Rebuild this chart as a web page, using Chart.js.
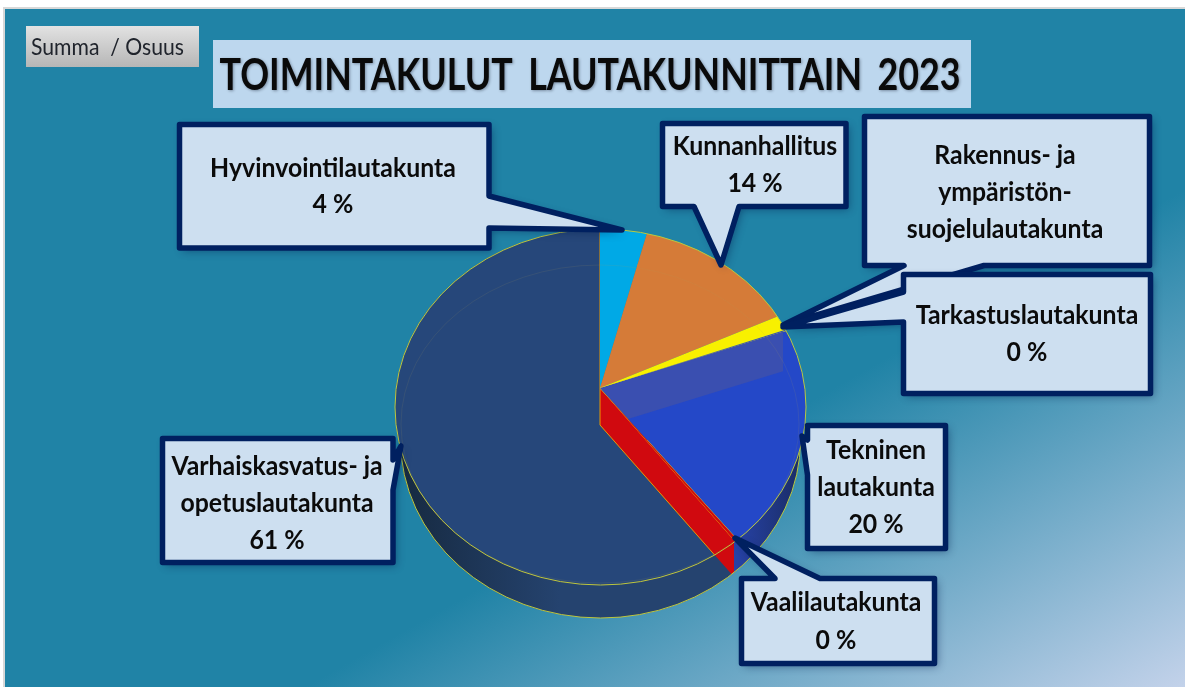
<!DOCTYPE html>
<html lang="fi">
<head>
<meta charset="utf-8">
<title>Toimintakulut lautakunnittain 2023</title>
<script src="https://cdn.jsdelivr.net/npm/chart.js@4"></script>
<style>
html,body{margin:0;padding:0;background:#fff;overflow:hidden}
#frame{position:absolute;left:3px;top:7px;width:1182px;height:680px;box-sizing:border-box;border-left:2px solid #d8d8d8;border-top:2px solid #d8d8d8;
background:linear-gradient(150.5deg,#2083a6 0%,#2083a6 63%,#c3d2ea 100%)}
#c{position:absolute;left:0;top:0}
</style>
</head>
<body>
<div id="frame"></div>
<canvas id="c" width="1185" height="687"></canvas>
<script>
// ---- data ----
const categories = ['Hyvinvointilautakunta','Kunnanhallitus','Rakennus- ja ympäristön-suojelulautakunta','Tarkastuslautakunta','Tekninen lautakunta','Vaalilautakunta','Varhaiskasvatus- ja opetuslautakunta'];
const values = [4.1, 14.0, 1.4, 0.1, 19.9, 0.2, 60.5];
const sliceColors = ['#00a9e6','#d57b38','#f8f000','#3a4fb0','#2448c8','#d0090f','#26477a'];
const labelLines = [
  ['Hyvinvointilautakunta','4 %'],
  ['Kunnanhallitus','14 %'],
  ['Rakennus- ja','ympäristön-','suojelulautakunta'],
  ['Tarkastuslautakunta','0 %'],
  ['Tekninen','lautakunta','20 %'],
  ['Vaalilautakunta','0 %'],
  ['Varhaiskasvatus- ja','opetuslautakunta','61 %']
];
const titleText = 'TOIMINTAKULUT LAUTAKUNNITTAIN 2023';
const buttonText = 'Summa  / Osuus';

// ---- callout layout (box outline with pointer; text centre and line positions) ----
const callouts = [
  {path:[[179.5,124.5],[489,124.5],[489,196],[622,230],[489,228],[489,248],[179.5,248]],cx:333,ys:[169,205]},
  {path:[[662.5,123.5],[846,123.5],[846,206.5],[739,206.5],[721,265],[694,206.5],[662.5,206.5]],cx:755,ys:[147,184]},
  {path:[[864.5,116.5],[1149.5,116.5],[1149.5,265.5],[984,265.5],[783,325],[904,265.5],[864.5,265.5]],cx:1005,ys:[156,193,230]},
  {path:[[903.5,274.5],[1150.5,274.5],[1150.5,393.5],[903.5,393.5],[903.5,322],[783,327],[903.5,292]],cx:1027,ys:[316,353]},
  {path:[[807.5,425.5],[945.5,425.5],[945.5,548.5],[807.5,548.5],[807.5,475],[802,436],[807.5,440]],cx:876,ys:[451,488,525]},
  {path:[[741.5,578.5],[775,578.5],[735,538],[820,578.5],[934.5,578.5],[934.5,663.5],[741.5,663.5]],cx:836,ys:[603,641]},
  {path:[[162.5,438.5],[393,438.5],[393,460],[401,446],[393,490],[393,562.5],[162.5,562.5]],cx:277,ys:[467,504,541]}
];
const topEllipse = {x:600.5,y:407,rx:205.5,ry:178};
const baseEllipse = {x:600.5,y:440,rx:200,ry:178};
const innerEllipse = {x:600,y:424,rx:199,ry:159};
const squash = 0.866;
const wallShift = 37;

function ell(ctx,e){ctx.beginPath();ctx.ellipse(e.x,e.y,e.rx,e.ry,0,0,Math.PI*2);}
function drawArc(ctx,el,color,dx,dy,border){
  const keep = el.options;
  el.options = {backgroundColor:color,borderColor:border||color,borderWidth:border?1:0,borderAlign:'center',borderJoinStyle:'round',
    borderDash:[],borderDashOffset:0,spacing:0,offset:0,circular:true,borderRadius:0};
  ctx.save();
  ctx.translate(el.x+dx,el.y+dy);
  ctx.scale(1,squash);
  ctx.translate(-el.x,-el.y);
  el.draw(ctx);
  ctx.restore();
  el.options = keep;
}
function condensed(ctx,t,x,y,f){ctx.fillText(t,x,y,ctx.measureText(t).width*f);}

const piePlugin = {
  id:'tiltedPie',
  beforeDraw(chart){
    const ctx = chart.ctx;
    ctx.save();
    ctx.fillStyle = '#bdd7ee';
    ctx.fillRect(213,40,758,68);
    const g = ctx.createLinearGradient(0,26,0,67);
    g.addColorStop(0,'#e2e2e2');g.addColorStop(1,'#b6b6b6');
    ctx.fillStyle = g;
    ctx.fillRect(26,26,173,41);
    ctx.fillStyle = '#20242c';
    ctx.font = '400 24px Lato';
    ctx.textAlign = 'left';ctx.textBaseline = 'middle';
    ctx.fillText(buttonText,31,47,153);
    ctx.fillStyle = '#0a0a0a';
    ctx.font = '700 43px Lato';
    ctx.wordSpacing = '8px';
    ctx.textAlign = 'center';
    ctx.shadowColor = 'rgba(40,50,70,.45)';ctx.shadowBlur = 3;ctx.shadowOffsetX = 1;ctx.shadowOffsetY = 1;
    ctx.fillText(titleText,590,76,741);
    ctx.restore();
  },
  beforeDatasetDraw(chart,args){
    const ctx = chart.ctx, a = args.meta.data;
    const [hyv,kun,rak,tar,tek,vaa,var_] = a;
    // side wall
    ctx.save();
    ell(ctx,baseEllipse);ctx.clip();
    const wg = ctx.createLinearGradient(395,0,560,0);
    wg.addColorStop(0,'#16293f');wg.addColorStop(1,'#25436f');
    drawArc(ctx,var_,sliceColors[5],0,0);
    drawArc(ctx,var_,wg,0,wallShift);
    ctx.beginPath();ctx.rect(734,0,200,687);ctx.clip();
    const bg = ctx.createLinearGradient(734,0,800,0);
    bg.addColorStop(0,'#2743a8');bg.addColorStop(1,'#1a2c66');
    drawArc(ctx,tek,bg,0,wallShift);
    ctx.restore();
    ctx.save();
    ell(ctx,baseEllipse);ctx.strokeStyle='#b9c840';ctx.lineWidth=1;ctx.stroke();
    ctx.restore();
    // top face
    ctx.save();
    ell(ctx,topEllipse);ctx.clip();
    drawArc(ctx,var_,sliceColors[5],0,0,'#f0a000');
    drawArc(ctx,var_,sliceColors[6],0,wallShift,'#f0a000');
    drawArc(ctx,hyv,sliceColors[0],0,0);
    drawArc(ctx,kun,sliceColors[1],0,0);
    drawArc(ctx,tek,sliceColors[4],0,0,'#e8d020');
    ctx.save();
    ctx.beginPath();ctx.rect(590,300,193,140);ctx.clip();
    drawArc(ctx,tek,sliceColors[3],0,0);
    drawArc(ctx,tek,sliceColors[4],28,31);
    ctx.restore();
    drawArc(ctx,tar,sliceColors[3],0,0);
    drawArc(ctx,rak,sliceColors[2],0,0);
    drawArc(ctx,vaa,sliceColors[5],0,0);
    ctx.restore();
    ctx.save();
    ell(ctx,innerEllipse);ctx.strokeStyle='rgba(170,160,90,.12)';ctx.lineWidth=1;ctx.stroke();
    ell(ctx,topEllipse);ctx.strokeStyle='#b9c840';ctx.lineWidth=1;ctx.stroke();
    ctx.restore();
    return false;
  },
  afterDraw(chart){
    const ctx = chart.ctx;
    callouts.forEach((c,i)=>{
      ctx.save();
      ctx.beginPath();
      c.path.forEach((p,j)=>j?ctx.lineTo(p[0],p[1]):ctx.moveTo(p[0],p[1]));
      ctx.closePath();
      ctx.shadowColor='rgba(0,25,70,.45)';ctx.shadowBlur=8;ctx.shadowOffsetX=3;ctx.shadowOffsetY=3;
      ctx.fillStyle='#cddff0';ctx.fill();
      ctx.shadowColor='transparent';
      ctx.strokeStyle='#002060';ctx.lineWidth=5.5;ctx.lineJoin='round';ctx.stroke();
      ctx.fillStyle='#0b0b0b';
      ctx.font='700 26px Lato';ctx.textAlign='center';ctx.textBaseline='middle';
      labelLines[i].forEach((t,k)=>condensed(ctx,t,c.cx,c.ys[k],0.955));
      ctx.restore();
    });
  }
};

new Chart(document.getElementById('c'),{
  type:'pie',
  data:{labels:categories,datasets:[{data:values,backgroundColor:sliceColors,borderWidth:0}]},
  options:{
    responsive:false,animation:false,
    layout:{padding:{left:15,right:0,top:110,bottom:21}},
    plugins:{legend:{display:false},tooltip:{enabled:false},title:{display:false}}
  },
  plugins:[piePlugin]
});
</script>
</body>
</html>
